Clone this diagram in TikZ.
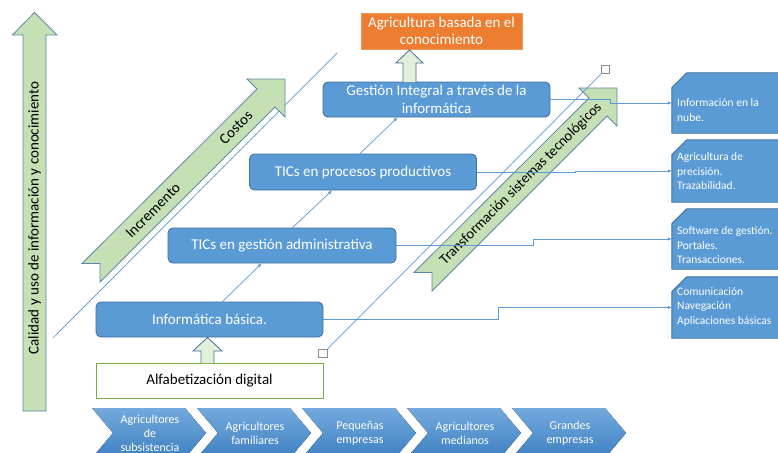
\documentclass[tikz,border=0pt]{standalone}
\usepackage{fontspec}
\setmainfont{Carlito}
\usetikzlibrary{arrows.meta,calc}
\definecolor{bblue}{HTML}{5B9BD5}
\definecolor{bborder}{HTML}{41719C}
\definecolor{lgreen}{HTML}{C5E0B4}
\definecolor{pgreen}{HTML}{E2F0D9}
\definecolor{aorange}{HTML}{ED7D31}
\definecolor{agreen}{HTML}{70AD47}
\definecolor{chevtop}{HTML}{74AADD}
\definecolor{chevbot}{HTML}{3E80C2}
\definecolor{sqgrey}{HTML}{8C8C8C}
\begin{document}
\begin{tikzpicture}[x=1pt,y=-1pt,
  bluebox/.style={draw=bborder, fill=bblue, rounded corners=5pt, line width=0.9pt,
    text=white, font=\fontsize{15}{17.5}\selectfont, align=center, inner sep=0pt,
    minimum width=227pt, minimum height=35pt},
  orangebox/.style={fill=aorange, draw=aorange!80!white, text=white,
    font=\fontsize{15}{17.5}\selectfont, align=center, inner sep=0pt,
    minimum width=161pt, minimum height=36pt},
  alfabox/.style={draw=agreen, fill=white, line width=0.9pt, text=black,
    font=\fontsize{15}{17.5}\selectfont, inner sep=0pt,
    minimum width=227pt, minimum height=35pt},
  bigarrow/.style={fill=lgreen, draw=bborder!85, line width=0.8pt},
  smallarrow/.style={fill=pgreen, draw=bborder, line width=0.8pt},
  arrowtext/.style={font=\fontsize{15}{17.5}\selectfont, text=black, inner sep=0pt},
  thinline/.style={draw=bblue, line width=0.7pt},
  thinarrow/.style={draw=bblue, line width=0.7pt, -{Latex[length=4pt,width=3.5pt]}},
  sq/.style={draw=sqgrey, fill=white, line width=0.6pt, minimum size=8.5pt, inner sep=0pt},
  rbox/.style={minimum width=118pt, minimum height=60pt, inner sep=0pt},
  rshape/.style={fill=bblue, draw=bborder, line width=0.9pt},
  rtext/.style={text=white, font=\fontsize{11.5}{14.5}\selectfont, align=left, inner sep=0pt, anchor=west},
  chev/.style={top color=chevtop, bottom color=chevbot, draw=none},
  chevtext/.style={text=white, font=\fontsize{12}{14}\selectfont, align=center, inner sep=0pt}
]
\useasboundingbox (0,0) rectangle (778,452);
\fill[white] (0,0) rectangle (778,452);

% vertical arrow
\draw[bigarrow] (23,411) -- (23,35) -- (12.5,35) -- (34.5,12.5) -- (57,35) -- (46,35) -- (46,411) -- cycle;
\node[arrowtext, rotate=90] (vt) at (34.5,218) {Calidad y uso de información y conocimiento};

% left long diagonal line
\coordinate (l1) at (53,338);
\coordinate (l2) at (337,53);
\draw[thinline] (l1) -- (l2);

% Incremento / Costos arrow
\draw[bigarrow] (82,263.5) -- (257,89) -- (247,79) -- (285,79) -- (285,117) -- (275,107) -- (100,282) -- (100,263.5) -- cycle;
\node[arrowtext, rotate=45] (inc) at (153,210.5) {Incremento};
\node[arrowtext, rotate=45] (cos) at (236,127.5) {Costos};

% Transformacion arrow
\draw[bigarrow] (414,272.5) -- (589,98) -- (579,88) -- (617,88) -- (617,126) -- (607,116) -- (432,291) -- (432,272.5) -- cycle;
\node[arrowtext, font=\fontsize{14.5}{17}\selectfont, rotate=45] (tra) at (521,184) {Transformación sistemas tecnológicos};

% connector with squares
\node[sq] (s1) at (323,353.5) {};
\node[sq] (s2) at (605.5,69.5) {};
\draw[thinline] (s1.north east) -- (s2.south west);

% boxes
\node[orangebox] (ak) at (441.5,31) {Agricultura basada en el\\conocimiento};
\node[bluebox] (gi) at (436.5,99.5) {Gestión Integral a través de la\\informática};
\node[bluebox, minimum height=36pt] (tp) at (363,172) {TICs en procesos productivos};
\node[bluebox, minimum width=228pt] (tg) at (282,245.5) {TICs en gestión administrativa};
\node[bluebox] (ib) at (209.5,319.5) {Informática básica.};
\node[alfabox] (al) at (209.5,380.5) {Alfabetización digital};

% small block arrows
\draw[smallarrow] (403,82) -- (403,63) -- (396,63) -- (409.5,50) -- (423,63) -- (416,63) -- (416,82);
\draw[smallarrow] (201,363) -- (201,351) -- (193,351) -- (207.5,337.5) -- (222,351) -- (214,351) -- (214,363);

% thin arrows between boxes
\draw[thinarrow] ([xshift=127pt]ib.north west) -- ([xshift=94pt]tg.south west);
\draw[thinarrow] ([xshift=125pt]tg.north west) -- ([xshift=83pt]tp.south west);
\draw[thinarrow] ([xshift=111pt]tp.north west) -- ([xshift=75pt]gi.south west);

% right boxes
\node[rbox] (r1) at (731,103) {};
\node[rbox, minimum height=62pt] (r2) at (731,171) {};
\node[rbox] (r3) at (731,239) {};
\node[rbox, minimum height=61pt] (r4) at (731,307.5) {};
\foreach \r in {r1,r2,r3,r4}{
  \draw[rshape] (\r.south west) -- ([yshift=-15pt]\r.north west) -- ([xshift=15pt]\r.north west) -- (\r.north east) -- (\r.south east) -- cycle;
}
\node[rtext] (t1) at (677,110) {Información en la\\nube.};
\node[rtext] (t2) at (677,171.5) {Agricultura de\\precisión.\\Trazabilidad.};
\node[rtext] (t3) at (677,245.5) {Software de gestión.\\Portales.\\Transacciones.};
\node[rtext] (t4) at (677,306.5) {Comunicación\\Navegación\\Aplicaciones básicas};

% elbow connectors
\draw[thinarrow] (gi.east) -- ++(60,0) |- (r1.west);
\draw[thinarrow] (tp.east) -- ++(98,0) |- (r2.west);
\draw[thinarrow] (tg.east) -- ++(137,0) |- (r3.west);
\draw[thinarrow] (ib.east) -- ++(175,0) |- (r4.west);

% chevrons
\foreach \x in {92,197,302,407,512}{
  \fill[chev] (\x,408) -- (\x+93,408) -- (\x+114,433) -- (\x+93,458) -- (\x,458) -- (\x+21,433) -- cycle;
}
\node[chevtext] (c1) at (150,433) {Agricultores\\de\\subsistencia};
\node[chevtext] (c2) at (255,433) {Agricultores\\familiares};
\node[chevtext] (c3) at (360,433) {Pequeñas\\empresas};
\node[chevtext] (c4) at (465,433) {Agricultores\\medianos};
\node[chevtext] (c5) at (570,433) {Grandes\\empresas};
\end{tikzpicture}
\end{document}
